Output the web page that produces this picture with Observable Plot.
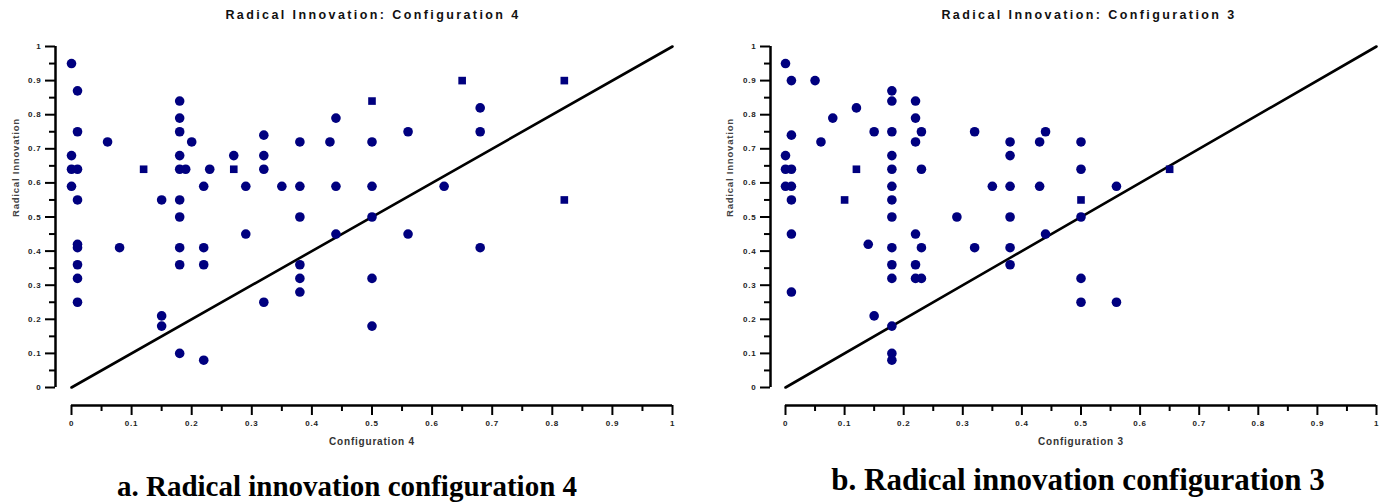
<!DOCTYPE html>
<html><head><meta charset="utf-8">
<script src="https://cdn.jsdelivr.net/npm/d3@7"></script>
<script src="https://cdn.jsdelivr.net/npm/@observablehq/plot@0.6"></script>
<style>
html,body{margin:0;padding:0;background:#fff;}
#wrap{position:relative;width:1386px;height:504px;overflow:hidden;font-family:"Liberation Sans",Arial,sans-serif;}
.ttl{position:absolute;top:8px;font-weight:bold;font-size:12.5px;line-height:14px;letter-spacing:2.4px;color:#111;transform:translateX(-50%);white-space:nowrap;}
.cap{position:absolute;font-family:"Liberation Serif","Times New Roman",serif;font-weight:bold;transform:translateX(-50%);white-space:nowrap;color:#000;}
.pl{position:absolute;top:30px;}
</style></head>
<body><div id="wrap"></div>
<script>
// ---- Data: panel a (Configuration 4) ----
const c4CircleX = [0,0.01,0.01,0.06,0,0,0.01,0,0.01,0.01,0.01,0.01,0.01,0.01,0.08,
  0.15,0.15,0.15,
  0.18,0.18,0.18,0.18,0.18,0.19,0.18,0.18,0.18,0.18,0.18,
  0.20,0.22,0.22,0.22,0.22,0.23,
  0.27,0.29,0.29,
  0.32,0.32,0.32,0.32,
  0.35,0.38,0.38,0.38,0.38,0.38,0.38,
  0.43,0.44,0.44,0.44,
  0.50,0.50,0.50,0.50,0.50,
  0.56,0.56,0.62,0.68,0.68,0.68];
const c4CircleY = [0.95,0.87,0.75,0.72,0.68,0.64,0.64,0.59,0.55,0.42,0.41,0.36,0.32,0.25,0.41,
  0.55,0.21,0.18,
  0.84,0.79,0.75,0.68,0.64,0.64,0.55,0.50,0.41,0.36,0.10,
  0.72,0.59,0.41,0.36,0.08,0.64,
  0.68,0.59,0.45,
  0.74,0.68,0.64,0.25,
  0.59,0.72,0.59,0.50,0.36,0.32,0.28,
  0.72,0.79,0.59,0.45,
  0.72,0.59,0.50,0.32,0.18,
  0.75,0.45,0.59,0.82,0.75,0.41];
const c4SquareX = [0.12,0.27,0.50,0.65,0.82,0.82];
const c4SquareY = [0.64,0.64,0.84,0.90,0.90,0.55];

// ---- Data: panel b (Configuration 3) ----
const c3CircleX = [0,0.01,0.05,0.01,0.06,0.08,0.12,0.15,0.14,0.15,
  0,0,0.01,0,0.01,0.01,0.01,0.01,
  0.18,0.18,0.18,0.18,0.18,0.18,0.18,0.18,0.18,0.18,0.18,0.18,0.18,0.18,
  0.22,0.22,0.22,0.22,0.22,0.22,
  0.23,0.23,0.23,0.23,
  0.29,0.32,0.32,0.35,
  0.38,0.38,0.38,0.38,0.38,0.38,
  0.43,0.43,0.44,0.44,
  0.50,0.50,0.50,0.50,0.50,
  0.56,0.56];
const c3CircleY = [0.95,0.90,0.90,0.74,0.72,0.79,0.82,0.75,0.42,0.21,
  0.68,0.64,0.64,0.59,0.59,0.55,0.45,0.28,
  0.87,0.84,0.75,0.68,0.64,0.59,0.55,0.50,0.41,0.36,0.32,0.18,0.10,0.08,
  0.84,0.79,0.72,0.45,0.36,0.32,
  0.75,0.64,0.41,0.32,
  0.50,0.75,0.41,0.59,
  0.72,0.68,0.59,0.50,0.41,0.36,
  0.72,0.59,0.75,0.45,
  0.72,0.64,0.50,0.32,0.25,
  0.59,0.25];
const c3SquareX = [0.12,0.10,0.50,0.65];
const c3SquareY = [0.64,0.55,0.55,0.64];

// ---- Axis ticks ----
const majorTicks = [0,0.1,0.2,0.3,0.4,0.5,0.6,0.7,0.8,0.9,1];
const majorLabels = ["0","0.1","0.2","0.3","0.4","0.5","0.6","0.7","0.8","0.9","1"];
const minorTicks = [0.05,0.15,0.25,0.35,0.45,0.55,0.65,0.75,0.85,0.95];
const diagonal = [0, 1];

const navy = "#00007f";
const H = 420, MT = 16, MB = 63;

function panel({cx, cy, sx, sy, xLabel, width, ml, mr, yGap, xGap}) {
  const frameW = width - ml - mr;
  const frameH = H - MT - MB;
  const idx = a => a.map((_, i) => i);
  return Plot.plot({
    width, height: H, marginTop: MT, marginBottom: MB, marginLeft: ml, marginRight: mr,
    x: {domain: [0, 1], axis: null},
    y: {domain: [0, 1], axis: null},
    style: {fontFamily: "'Liberation Sans', Arial, sans-serif", overflow: "visible", background: "transparent", letterSpacing: "0.8px"},
    marks: [
      // x axis (detached below)
      Plot.ruleY([0], {x1: 0, x2: 1, dy: xGap, stroke: "#000", strokeWidth: 2.5}),
      Plot.tickX(majorTicks, {x: d => d, insetTop: frameH + xGap, insetBottom: -(xGap + 10), stroke: "#000", strokeWidth: 2}),
      Plot.tickX(minorTicks, {x: d => d, insetTop: frameH + xGap, insetBottom: -(xGap + 6), stroke: "#000", strokeWidth: 2}),
      Plot.text(majorTicks, {x: d => d, text: (d, i) => majorLabels[i], frameAnchor: "bottom", dy: xGap + 20, fontSize: 8, fontWeight: "bold", fill: "#222"}),
      Plot.text([xLabel], {x: 0.5, text: d => d, frameAnchor: "bottom", dy: xGap + 39, fontSize: 10, fontWeight: "bold", fill: "#333"}),
      // y axis (detached left)
      Plot.ruleX([0], {y1: 0, y2: 1, dx: -yGap, stroke: "#000", strokeWidth: 2.5}),
      Plot.tickY(majorTicks, {y: d => d, insetLeft: -(yGap + 10), insetRight: frameW + yGap, stroke: "#000", strokeWidth: 2}),
      Plot.tickY(minorTicks, {y: d => d, insetLeft: -(yGap + 6), insetRight: frameW + yGap, stroke: "#000", strokeWidth: 2}),
      Plot.text(majorTicks, {y: d => d, text: (d, i) => majorLabels[i], frameAnchor: "left", dx: -(yGap + 14), textAnchor: "end", fontSize: 8, fontWeight: "bold", fill: "#222"}),
      Plot.text(["Radical Innovation"], {y: 0.5, text: d => d, frameAnchor: "left", dx: -56, rotate: -90, fontSize: 9.5, fontWeight: "bold", fill: "#444"}),
      // diagonal reference line
      Plot.line(diagonal, {x: d => d, y: d => d, stroke: "#000", strokeWidth: 2.6}),
      // points
      Plot.dot(idx(cx), {x: i => cx[i], y: i => cy[i], r: 4.8, fill: navy, stroke: "none"}),
      Plot.dot(idx(sx), {x: i => sx[i], y: i => sy[i], r: 4.3, symbol: "square", fill: navy, stroke: "none"})
    ]
  });
}

const wrap = document.getElementById("wrap");

function add(node, left) {
  const d = document.createElement("div");
  d.className = "pl";
  d.style.left = left + "px";
  d.appendChild(node);
  wrap.appendChild(d);
}
function label(cls, text, left, top, size, lh) {
  const d = document.createElement("div");
  d.className = cls;
  d.style.left = left + "px";
  if (top != null) d.style.top = top + "px";
  if (size) d.style.fontSize = size + "px";
  if (lh) d.style.lineHeight = lh + "px";
  d.textContent = text;
  wrap.appendChild(d);
  return d;
}

add(panel({cx: c4CircleX, cy: c4CircleY, sx: c4SquareX, sy: c4SquareY, xLabel: "Configuration 4",
  width: 693, ml: 71, mr: 21, yGap: 16, xGap: 18}), 0);
add(panel({cx: c3CircleX, cy: c3CircleY, sx: c3SquareX, sy: c3SquareY, xLabel: "Configuration 3",
  width: 693, ml: 92, mr: 10, yGap: 15, xGap: 18}), 693);

label("ttl", "Radical Innovation: Configuration 4", 373);
label("ttl", "Radical Innovation: Configuration 3", 1089);
label("cap", "a. Radical innovation configuration 4", 347, 470, 29, 32);
label("cap", "b. Radical innovation configuration 3", 1078, 463, 31, 34);
</script>
</body></html>
